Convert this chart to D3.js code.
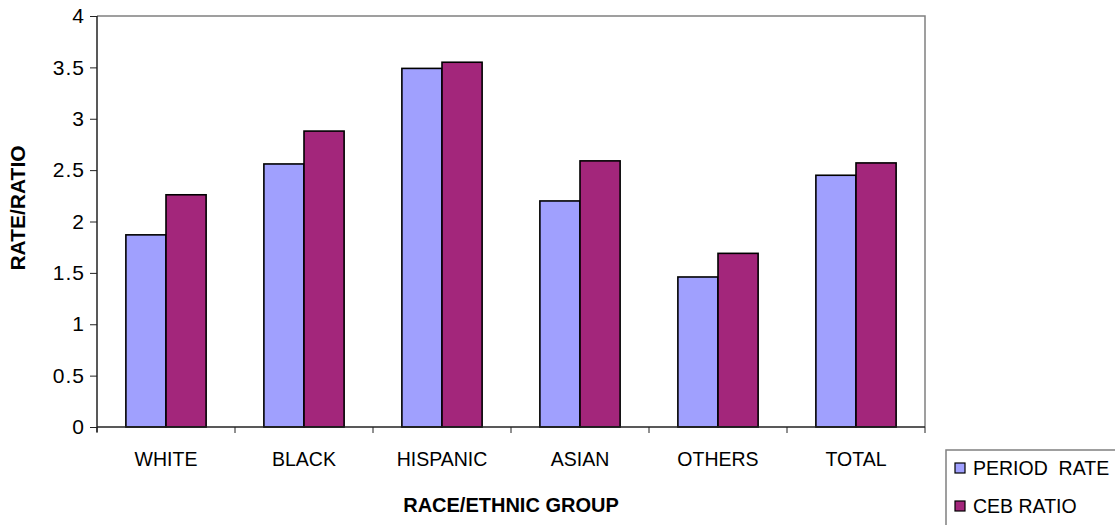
<!DOCTYPE html>
<html>
<head>
<meta charset="utf-8">
<script src="https://cdn.jsdelivr.net/npm/d3@7"></script>
<style>
  html, body { margin: 0; padding: 0; background: #fff; }
  svg text { font-family: Arial, "Liberation Sans", sans-serif; fill: #000; }
</style>
</head>
<body>
<svg id="chart" width="1115" height="525"></svg>
<script>
// Fertility measures by race/ethnic group
const categories = ["WHITE", "BLACK", "HISPANIC", "ASIAN", "OTHERS", "TOTAL"];
const seriesNames = ["PERIOD  RATE", "CEB RATIO"];
const periodRate = [1.87, 2.56, 3.49, 2.20, 1.46, 2.45];
const cebRatio = [2.26, 2.88, 3.55, 2.59, 1.69, 2.57];
const yTicks = [0, 0.5, 1, 1.5, 2, 2.5, 3, 3.5, 4];
const colors = ["#a0a0fe", "#a3267b"];

const svg = d3.select("#chart");
const plot = { left: 97, right: 925, top: 16, bottom: 427 };

const x = d3.scaleBand().domain(categories).range([plot.left, plot.right]).paddingInner(0).paddingOuter(0);
const y = d3.scaleLinear().domain([0, 4]).range([plot.bottom, plot.top]);
const inner = d3.scaleBand().domain([0, 1]).range([0, x.bandwidth()]).paddingInner(0).paddingOuter(0.72);

// plot frame (top and right)
svg.append("path")
  .attr("d", `M${plot.left},${plot.top}H${plot.right}V${plot.bottom}`)
  .attr("fill", "none").attr("stroke", "#808080").attr("stroke-width", 1.5);

// bars
const series = [periodRate, cebRatio];
series.forEach((vals, si) => {
  svg.append("g").selectAll("rect").data(vals).join("rect")
    .attr("x", (d, i) => x(categories[i]) + inner(si))
    .attr("y", d => y(d))
    .attr("width", inner.bandwidth())
    .attr("height", d => y(0) - y(d))
    .attr("fill", colors[si])
    .attr("stroke", "#000").attr("stroke-width", 1.6);
});

// y axis
const yAxis = svg.append("g").attr("transform", `translate(${plot.left},0)`)
  .call(d3.axisLeft(y).tickValues(yTicks).tickFormat(d => String(d)).tickSize(7).tickPadding(5));
yAxis.select(".domain").attr("d", `M0,${plot.top}V${plot.bottom + 5}`).attr("stroke", "#222").attr("stroke-width", 1.5);
yAxis.selectAll(".tick line").attr("stroke", "#222");
yAxis.selectAll("text").attr("font-size", 21).attr("letter-spacing", 1)
  .style("font-family", "Arial, 'Liberation Sans', sans-serif").attr("fill", "#000");

// x axis: ticks at category boundaries
const xg = svg.append("g");
xg.append("line").attr("x1", plot.left).attr("x2", plot.right)
  .attr("y1", plot.bottom).attr("y2", plot.bottom).attr("stroke", "#222").attr("stroke-width", 1.5);
const bounds = categories.map(c => x(c)).concat([x(categories[categories.length - 1]) + x.bandwidth()]);
xg.selectAll("line.tk").data(bounds).join("line").attr("class", "tk")
  .attr("x1", d => d).attr("x2", d => d)
  .attr("y1", plot.bottom).attr("y2", plot.bottom + 6).attr("stroke", "#222");
xg.selectAll("text").data(categories).join("text")
  .attr("x", d => x(d) + x.bandwidth() / 2).attr("y", 466)
  .attr("text-anchor", "middle").attr("font-size", 19.5).text(d => d);

// axis titles
svg.append("text").attr("x", (plot.left + plot.right) / 2).attr("y", 512)
  .attr("text-anchor", "middle").attr("font-size", 20).attr("font-weight", "bold")
  .text("RACE/ETHNIC GROUP");
svg.append("text").attr("transform", "translate(25,208) rotate(-90)")
  .attr("text-anchor", "middle").attr("font-size", 21).attr("font-weight", "bold")
  .text("RATE/RATIO");

// legend
const lg = svg.append("g");
lg.append("rect").attr("x", 946).attr("y", 450).attr("width", 200).attr("height", 100)
  .attr("fill", "#fff").attr("stroke", "#808080").attr("stroke-width", 1.5);
seriesNames.forEach((name, i) => {
  const cy = 468 + i * 38;
  lg.append("rect").attr("x", 955).attr("y", cy - 5).attr("width", 10).attr("height", 10)
    .attr("fill", colors[i]).attr("stroke", "#000").attr("stroke-width", 1.2);
  lg.append("text").attr("x", 973).attr("y", cy + 7).attr("font-size", 19.5)
    .attr("xml:space", "preserve").text(name);
});
</script>
</body>
</html>
